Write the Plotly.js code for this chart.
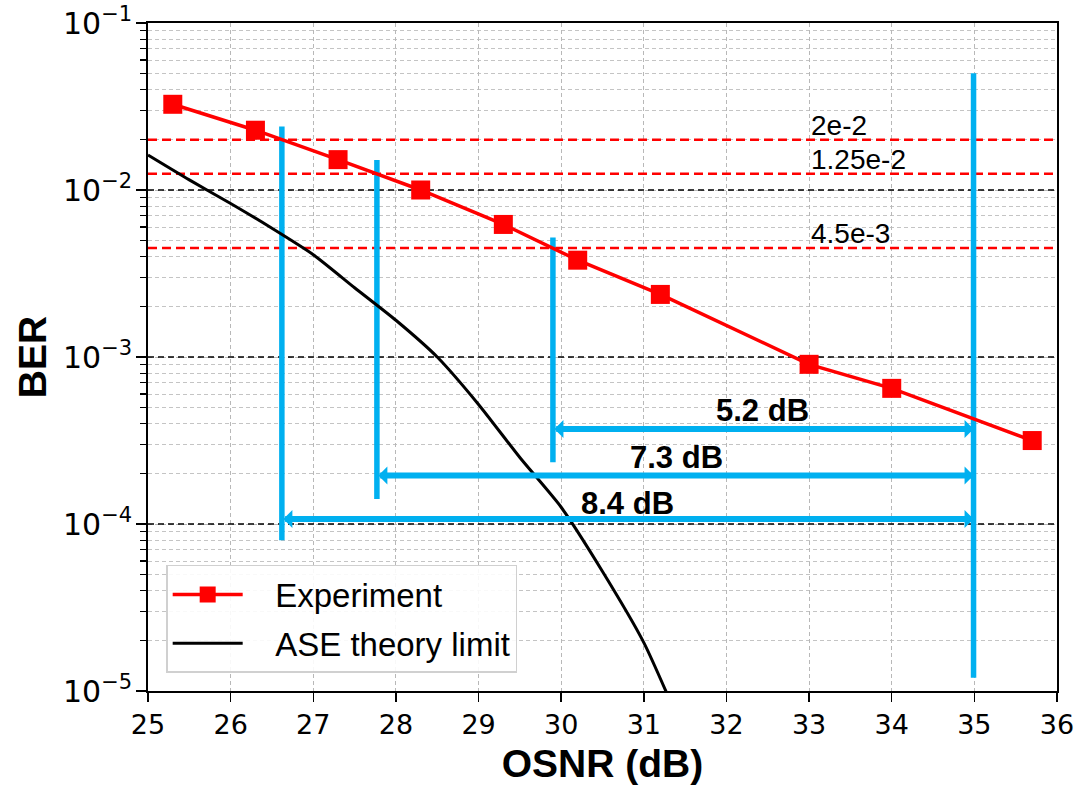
<!DOCTYPE html>
<html>
<head>
<meta charset="utf-8">
<script src="https://cdn.plot.ly/plotly-3.0.1.min.js"></script>
<style>html,body{margin:0;padding:0;background:#fff;}#chart{width:1079px;height:787px;}</style>
</head>
<body>
<div id="chart"></div>
<script>
// ---- data ----
const osnrExp = [25.3, 26.3, 27.3, 28.3, 29.3, 30.2, 31.2, 33.0, 34.0, 35.7];
const berExp  = [0.0326, 0.0228, 0.0152, 0.0100, 0.00622, 0.0038, 0.00237, 0.000904, 0.000649, 0.000316];

const osnrASE = [25.0, 25.5, 26.0, 26.5, 27.0, 27.5, 28.0, 28.5, 29.0, 29.5, 30.0, 30.5, 31.0, 31.5];
const berASE  = [0.0162, 0.0115, 0.0083, 0.0059, 0.0041, 0.0026, 0.00166, 0.0010, 0.00052, 0.00025, 0.000126, 0.000052, 0.0000195, 0.0000054];

const fecThresholds = [2e-2, 1.25e-2, 4.5e-3];
const fecLabels = ['2e-2', '1.25e-2', '4.5e-3'];
const fecLabelX = 33.04;
const refLevels = [1e-2, 1e-3, 1e-4];

const markerX   = [26.62, 27.77, 29.90, 34.99];
const markerTop = [0.024, 0.0151, 0.0052, 0.050];
const markerBot = [8e-5, 1.41e-4, 2.34e-4, 1.2e-5];

const gapStartX = [29.90, 27.77, 26.62];
const gapEndX = 34.99;
const gapY = [3.7e-4, 1.95e-4, 1.07e-4];
const gapLabels = ['5.2 dB', '7.3 dB', '8.4 dB'];
const gapLabelX = [32.44, 31.40, 30.80];
const gapLabelY = [4.8e-4, 2.5e-4, 1.32e-4];

const yTickExps = [-5, -4, -3, -2, -1];
const yTickVals = yTickExps.map(e => Math.pow(10, e));
const yTickText = yTickExps.map(e => '10<sup>\u2212' + Math.abs(e) + '</sup>');
const yMinorVals = [];
yTickExps.slice(0, -1).forEach(e => { for (let m = 2; m <= 9; m++) yMinorVals.push(m * Math.pow(10, e)); });

const xRange = [25, 36];
const yRangeLog = [-5, -1];

// ---- build ----
const BLUE = '#00b0f0';
const traces = [];

fecThresholds.forEach(v => traces.push({
  x: xRange, y: [v, v], mode: 'lines', showlegend: false, hoverinfo: 'skip',
  line: {color: '#ff0000', width: 2.5, dash: '9px,5px'}
}));
refLevels.forEach(v => traces.push({
  x: xRange, y: [v, v], mode: 'lines', showlegend: false, hoverinfo: 'skip',
  line: {color: '#000000', width: 1.5, dash: '6px,4px'}
}));
markerX.forEach((x, i) => traces.push({
  x: [x, x], y: [markerBot[i], markerTop[i]], mode: 'lines', showlegend: false, hoverinfo: 'skip',
  line: {color: BLUE, width: 5.5}
}));

traces.push({
  x: osnrExp, y: berExp, name: '\u00a0\u00a0\u00a0Experiment', mode: 'lines+markers', legendgroup: 'a',
  line: {color: '#ff0000', width: 3.5},
  marker: {symbol: 'square', size: 19, color: '#ff0000'}
});
traces.push({
  x: osnrASE, y: berASE, name: '\u00a0\u00a0\u00a0ASE theory limit', mode: 'lines', legendgroup: 'b',
  line: {color: '#000000', width: 3, shape: 'spline', smoothing: 0.6}
});

const annotations = [];
fecThresholds.forEach((v, i) => annotations.push({
  x: fecLabelX, y: Math.log10(v), xref: 'x', yref: 'y', text: fecLabels[i],
  showarrow: false, xanchor: 'left', yanchor: 'bottom', yshift: -3, xshift: -3,
  font: {family: 'Liberation Sans, Arial', size: 28, color: '#000'}
}));
gapStartX.forEach((x0, i) => {
  annotations.push({
    x: gapEndX, y: Math.log10(gapY[i]), ax: x0, ay: Math.log10(gapY[i]),
    xref: 'x', yref: 'y', axref: 'x', ayref: 'y', text: '', showarrow: true,
    arrowside: 'end+start', arrowhead: 1, arrowsize: 0.5, arrowwidth: 6, arrowcolor: BLUE,
    standoff: 0, startstandoff: 0, font: {size: 1}
  });
  annotations.push({
    x: gapLabelX[i], y: Math.log10(gapLabelY[i]), xref: 'x', yref: 'y', text: '<b>' + gapLabels[i] + '</b>',
    showarrow: false, xanchor: 'center', yanchor: 'middle',
    font: {family: 'Liberation Sans, Arial', size: 31, color: '#000'}
  });
});

const layout = {
  width: 1079, height: 787,
  margin: {l: 148, r: 22, t: 23, b: 96},
  paper_bgcolor: '#fff', plot_bgcolor: '#fff',
  showlegend: true,
  legend: {
    x: 0.02, y: 0.027, xanchor: 'left', yanchor: 'bottom',
    bgcolor: 'rgba(255,255,255,0.9)', bordercolor: '#d0d0d0', borderwidth: 1.5,
    font: {family: 'Liberation Sans, Arial', size: 33, color: '#000'},
    itemwidth: 70, traceorder: 'grouped', tracegroupgap: 3
  },
  xaxis: {
    range: xRange, dtick: 1, tick0: 25,
    showgrid: true, gridcolor: '#b8b8b8', griddash: '4px,3px', gridwidth: 1,
    zeroline: false, showline: true, linecolor: '#000', linewidth: 1.8, mirror: true,
    ticks: 'outside', ticklen: 9, tickwidth: 1.5, tickcolor: '#000',
    tickfont: {family: 'DejaVu Sans', size: 27, color: '#000'},
    title: {text: '<b>OSNR (dB)</b>', font: {family: 'Liberation Sans, Arial', size: 39, color: '#000'}, standoff: 10}
  },
  yaxis: {
    type: 'log', range: yRangeLog, tickmode: 'array', tickvals: yTickVals, ticktext: yTickText,
    ticklabeloverflow: 'allow',
    showgrid: true, gridcolor: '#b8b8b8', griddash: '4px,3px', gridwidth: 1,
    minor: {tickmode: 'array', tickvals: yMinorVals, ticks: 'outside', ticklen: 6, tickwidth: 1.2, tickcolor: '#000', showgrid: true, gridcolor: '#c4c4c4', griddash: '4px,3px', gridwidth: 1},
    zeroline: false, showline: true, linecolor: '#000', linewidth: 1.8, mirror: true,
    ticks: 'outside', ticklen: 10, tickwidth: 1.5, tickcolor: '#000', ticklabelstandoff: -2,
    tickfont: {family: 'DejaVu Sans', size: 30, color: '#000'},
    title: {text: '<b>BER</b>', font: {family: 'Liberation Sans, Arial', size: 39, color: '#000'}, standoff: 4}
  },
  annotations: annotations
};

Plotly.newPlot('chart', traces, layout, {displayModeBar: false, staticPlot: true});
</script>
</body>
</html>
